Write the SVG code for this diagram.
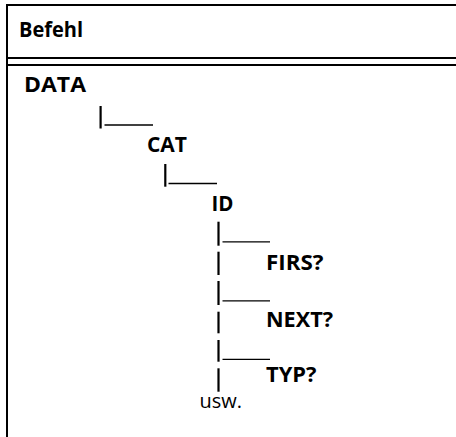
<svg xmlns="http://www.w3.org/2000/svg" width="456" height="437" viewBox="0 0 456 437">
<style>
.frame{stroke:#000;stroke-width:2;fill:none}
.t{font-family:"Open Sans","Noto Sans","DejaVu Sans",sans-serif;font-size:20.5px;font-weight:700;fill:#000}
.r{font-family:"Open Sans","Noto Sans","DejaVu Sans",sans-serif;font-size:20.5px;font-weight:400;fill:#000}
.bar{stroke:#000;stroke-width:2.2;fill:none}
.us{stroke:#000;stroke-width:1.3;fill:none}
</style>
<g id="table">
<line class="frame" x1="7" y1="4" x2="7" y2="437"/>
<line class="frame" x1="6" y1="5" x2="456" y2="5"/>
<line class="frame" x1="6" y1="58" x2="456" y2="58"/>
<line class="frame" x1="6" y1="65" x2="456" y2="65"/>
</g>
<g id="header"><text class="t" x="19" y="37" textLength="64" lengthAdjust="spacingAndGlyphs">Befehl</text></g>
<g id="n-data"><text class="t" x="24" y="92" textLength="62" lengthAdjust="spacingAndGlyphs">DATA</text></g>
<g id="n-cat"><text class="t" x="147" y="152" textLength="40" lengthAdjust="spacingAndGlyphs">CAT</text></g>
<g id="n-id"><text class="t" x="211.5" y="211" textLength="22" lengthAdjust="spacingAndGlyphs">ID</text></g>
<g id="n-firs"><text class="t" x="266" y="270" textLength="57.5" lengthAdjust="spacingAndGlyphs">FIRS?</text></g>
<g id="n-next"><text class="t" x="266" y="327" textLength="67" lengthAdjust="spacingAndGlyphs">NEXT?</text></g>
<g id="n-typ"><text class="t" x="266" y="382" textLength="50.5" lengthAdjust="spacingAndGlyphs">TYP?</text></g>
<g id="n-usw"><text class="r" x="199.5" y="408" textLength="42.5" lengthAdjust="spacingAndGlyphs">usw.</text></g>
<g id="connectors">
<line class="bar" x1="100.6" y1="106" x2="100.6" y2="128.5"/>
<line class="us" x1="104.5" y1="125" x2="153" y2="125"/>
<line class="bar" x1="165.3" y1="164" x2="165.3" y2="186.7"/>
<line class="us" x1="168.5" y1="183.5" x2="217" y2="183.5"/>
<line class="bar" x1="218.5" y1="221.7" x2="218.5" y2="245.7"/>
<line class="us" x1="222.5" y1="241.8" x2="270" y2="241.8"/>
<line class="bar" x1="218.5" y1="251.7" x2="218.5" y2="275"/>
<line class="bar" x1="218.5" y1="281" x2="218.5" y2="305"/>
<line class="us" x1="222.5" y1="300.8" x2="270" y2="300.8"/>
<line class="bar" x1="218.5" y1="311.7" x2="218.5" y2="333.3"/>
<line class="bar" x1="218.5" y1="340" x2="218.5" y2="361.7"/>
<line class="us" x1="222.5" y1="359.3" x2="270" y2="359.3"/>
<line class="bar" x1="218.5" y1="368.3" x2="218.5" y2="391.7"/>
</g>
</svg>
